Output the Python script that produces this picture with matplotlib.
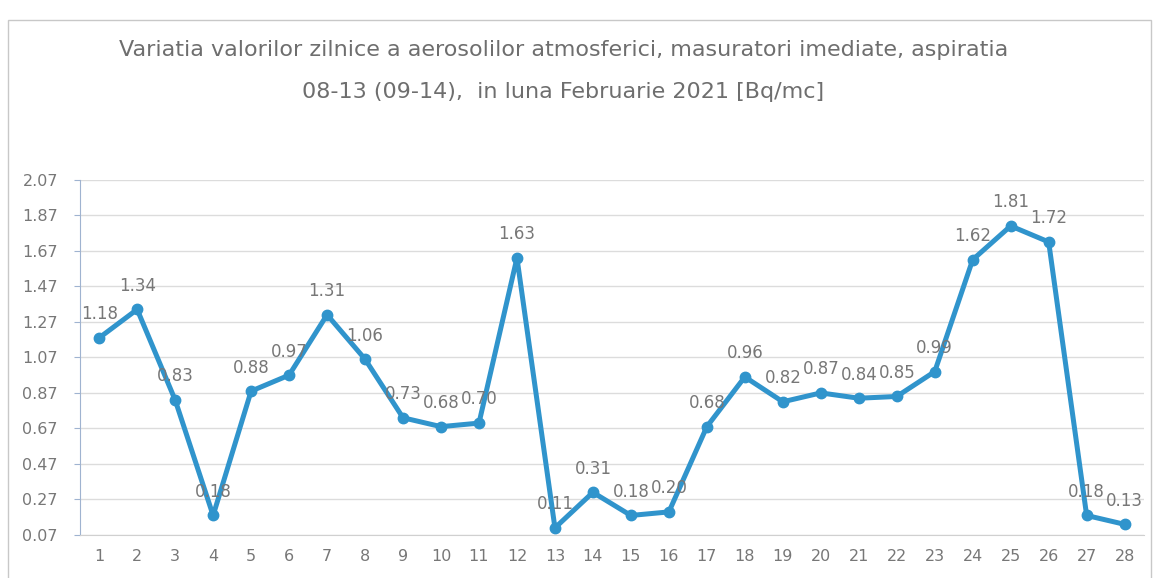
import matplotlib.pyplot as plt
from matplotlib.patches import Rectangle
import numpy as np

days = list(range(1, 29))
values = [1.18, 1.34, 0.83, 0.18, 0.88, 0.97, 1.31, 1.06, 0.73, 0.68, 0.70, 1.63,
          0.11, 0.31, 0.18, 0.20, 0.68, 0.96, 0.82, 0.87, 0.84, 0.85, 0.99, 1.62,
          1.81, 1.72, 0.18, 0.13]
yticks = [0.07, 0.27, 0.47, 0.67, 0.87, 1.07, 1.27, 1.47, 1.67, 1.87, 2.07]
title_1 = "Variatia valorilor zilnice a aerosolilor atmosferici, masuratori imediate, aspiratia"
title_2 = "08-13 (09-14),  in luna Februarie 2021 [Bq/mc]"

line_color = '#3094cc'
text_color = '#777777'

fig = plt.figure(figsize=(11.54, 5.78), dpi=100)
ax = fig.add_axes([0.0695, 0.0744, 0.9215, 0.6146])

ax.plot(days, values, color=line_color, linewidth=3.6, marker='o', markersize=7.5,
        zorder=3)
for d, v in zip(days, values):
    ax.annotate("{:.2f}".format(v), (d, v), xytext=(0, 17), textcoords='offset points',
                ha='center', va='center', fontsize=12, color=text_color, zorder=4)

ax.set_xlim(0.5, 28.5)
ax.set_ylim(0.07, 2.07)
ax.set_yticks(yticks)
ax.set_yticklabels(["{:.2f}".format(t) for t in yticks])
ax.set_xticks(days)
ax.grid(axis='y', color='#dcdcdc', linewidth=1)
ax.set_axisbelow(True)
for side in ['top', 'right']:
    ax.spines[side].set_visible(False)
ax.spines['left'].set_color('#9fb3d0')
ax.spines['bottom'].set_color('#d0d0d0')
ax.tick_params(axis='y', colors='#9fb3d0', labelcolor=text_color, labelsize=11.5,
               length=4, pad=12)
ax.tick_params(axis='x', length=0, labelcolor=text_color, labelsize=11.5, pad=10)

fig.text(0.488, 0.913, title_1, ha='center', va='center', fontsize=16,
         color='#6e6e6e')
fig.text(0.488, 0.841, title_2, ha='center', va='center', fontsize=16,
         color='#6e6e6e')

fig.patches.append(Rectangle((0.007, -0.01), 0.99, 0.975, transform=fig.transFigure,
                             fill=False, edgecolor='#c8c8c8', linewidth=1))

plt.savefig("out.png", dpi=100)
